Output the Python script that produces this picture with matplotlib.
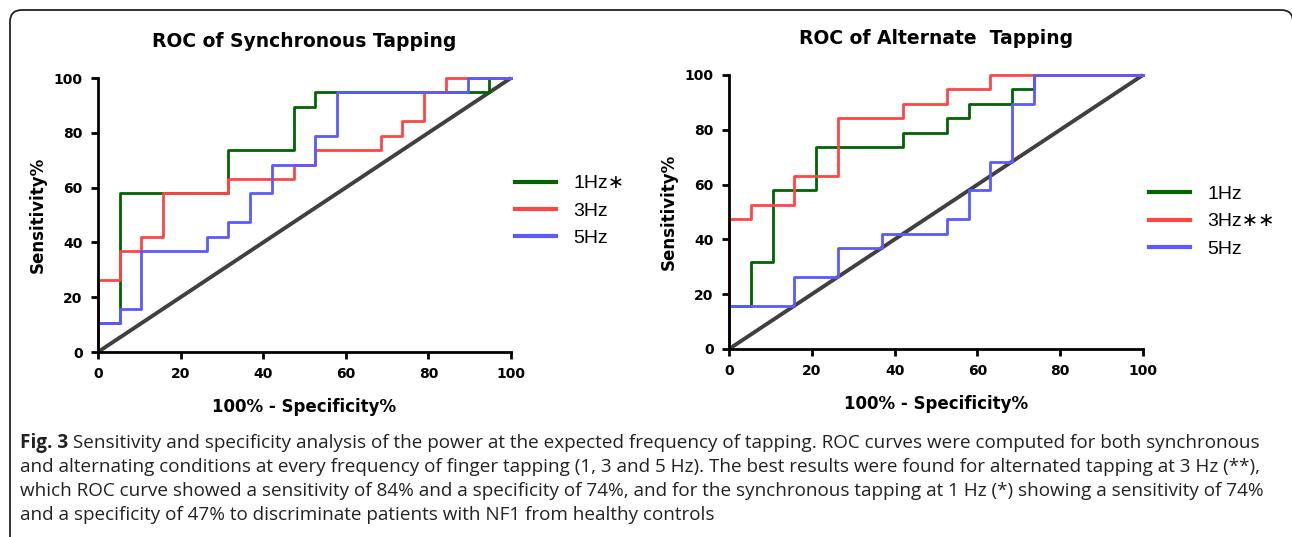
"""ROC curves for synchronous and alternate tapping (Fig. 3)."""

import matplotlib

matplotlib.use("Agg")
import matplotlib.pyplot as plt
from matplotlib.patches import FancyBboxPatch
from matplotlib.transforms import IdentityTransform

# ---- data (100% - specificity %, sensitivity %) ----
sync_1hz_fpr = [0, 0, 5.26, 5.26, 31.58, 31.58, 47.37, 47.37, 52.63, 52.63, 94.74, 94.74, 100]
sync_1hz_tpr = [0, 10.53, 10.53, 57.89, 57.89, 73.68, 73.68, 89.47, 89.47, 94.74, 94.74, 100, 100]

sync_3hz_fpr = [0, 0, 5.26, 5.26, 10.53, 10.53, 15.79, 15.79, 31.58, 31.58, 47.37, 47.37,
                52.63, 52.63, 68.42, 68.42, 73.68, 73.68, 78.95, 78.95, 84.21, 84.21, 100]
sync_3hz_tpr = [0, 26.32, 26.32, 36.84, 36.84, 42.11, 42.11, 57.89, 57.89, 63.16, 63.16, 68.42,
                68.42, 73.68, 73.68, 78.95, 78.95, 84.21, 84.21, 94.74, 94.74, 100, 100]

sync_5hz_fpr = [0, 0, 5.26, 5.26, 10.53, 10.53, 26.32, 26.32, 31.58, 31.58, 36.84, 36.84,
                42.11, 42.11, 52.63, 52.63, 57.89, 57.89, 89.47, 89.47, 100]
sync_5hz_tpr = [0, 10.53, 10.53, 15.79, 15.79, 36.84, 36.84, 42.11, 42.11, 47.37, 47.37, 57.89,
                57.89, 68.42, 68.42, 78.95, 78.95, 94.74, 94.74, 100, 100]

alt_1hz_fpr = [0, 0, 5.26, 5.26, 10.53, 10.53, 21.05, 21.05, 42.11, 42.11, 52.63, 52.63,
               57.89, 57.89, 68.42, 68.42, 73.68, 73.68, 100]
alt_1hz_tpr = [0, 15.79, 15.79, 31.58, 31.58, 57.89, 57.89, 73.68, 73.68, 78.95, 78.95, 84.21,
               84.21, 89.47, 89.47, 94.74, 94.74, 100, 100]

alt_3hz_fpr = [0, 0, 5.26, 5.26, 15.79, 15.79, 26.32, 26.32, 42.11, 42.11, 52.63, 52.63,
               63.16, 63.16, 100]
alt_3hz_tpr = [0, 47.37, 47.37, 52.63, 52.63, 63.16, 63.16, 84.21, 84.21, 89.47, 89.47, 94.74,
               94.74, 100, 100]

alt_5hz_fpr = [0, 0, 15.79, 15.79, 26.32, 26.32, 36.84, 36.84, 52.63, 52.63, 57.89, 57.89,
               63.16, 63.16, 68.42, 68.42, 73.68, 73.68, 100]
alt_5hz_tpr = [0, 15.79, 15.79, 26.32, 26.32, 36.84, 36.84, 42.11, 42.11, 47.37, 47.37, 57.89,
               57.89, 68.42, 68.42, 89.47, 89.47, 100, 100]

ticks = [0, 20, 40, 60, 80, 100]
sync_labels = ["1Hz\u2217", "3Hz", "5Hz"]
alt_labels = ["1Hz", "3Hz\u2217\u2217", "5Hz"]

caption_bold = "Fig. 3"
caption_lines = [
    " Sensitivity and specificity analysis of the power at the expected frequency of tapping. "
    "ROC curves were computed for both synchronous",
    "and alternating conditions at every frequency of finger tapping (1, 3 and 5 Hz). "
    "The best results were found for alternated tapping at 3 Hz (**),",
    "which ROC curve showed a sensitivity of 84% and a specificity of 74%, and for the "
    "synchronous tapping at 1 Hz (*) showing a sensitivity of 74%",
    "and a specificity of 47% to discriminate patients with NF1 from healthy controls",
]

GREEN = "#006400"
RED = "#ff4545"
BLUE = "#5a5aff"
DIAG = "#404040"
INK = "#222222"

plt.rcParams["font.family"] = ["Liberation Sans", "DejaVu Sans"]
WIDE = ["DejaVu Sans"]

W, H = 1292, 537
fig = plt.figure(figsize=(W / 100, H / 100), dpi=100)


def px_axes(x0, x1, y0, y1):
    # pixel box (top-left origin) -> figure fraction
    return fig.add_axes([x0 / W, 1 - y0 / H, (x1 - x0) / W, (y0 - y1) / H])


def roc_panel(ax, curves, labels, title, legend_anchor):
    ax.plot([0, 100], [0, 100], color=DIAG, lw=2.8, zorder=1, solid_capstyle="butt")
    handles = []
    for (fpr, tpr), color, label in zip(curves, [GREEN, RED, BLUE], labels):
        (h,) = ax.plot(fpr, tpr, color=color, lw=2.0, zorder=2, label=label)
        handles.append(h)
    ax.set_xlim(0, 100)
    ax.set_ylim(0, 100)
    ax.set_xticks(ticks)
    ax.set_yticks(ticks)
    for side in ["top", "right"]:
        ax.spines[side].set_visible(False)
    for side in ["left", "bottom"]:
        ax.spines[side].set_linewidth(2.0)
    ax.tick_params(width=2.0, length=5, labelsize=10, pad=6)
    for lab in ax.get_xticklabels() + ax.get_yticklabels():
        lab.set_fontweight("bold")
        lab.set_family(WIDE)
    ax.set_title(title, fontsize=13.5, fontweight="bold", pad=22, family=WIDE)
    ax.set_xlabel("100% - Specificity%", fontsize=12, fontweight="bold", labelpad=12,
                  family=WIDE)
    ax.set_ylabel("Sensitivity%", fontsize=12, fontweight="bold", labelpad=5, family=WIDE)
    for line in ax.lines:
        line.set_clip_on(False)
    leg = ax.legend(handles=handles, loc="center left", bbox_to_anchor=legend_anchor,
                    frameon=False, fontsize=14, handlelength=2.1, handletextpad=0.9,
                    labelspacing=0.5, borderaxespad=0, borderpad=0)
    for lh in leg.get_lines():
        lh.set_linewidth(3.0)


ax1 = px_axes(98, 511, 352, 78)
roc_panel(ax1, [(sync_1hz_fpr, sync_1hz_tpr), (sync_3hz_fpr, sync_3hz_tpr),
                (sync_5hz_fpr, sync_5hz_tpr)],
          sync_labels, "ROC of Synchronous Tapping", (1.01, 0.515))

ax2 = px_axes(729, 1143, 349, 75)
roc_panel(ax2, [(alt_1hz_fpr, alt_1hz_tpr), (alt_3hz_fpr, alt_3hz_tpr),
                (alt_5hz_fpr, alt_5hz_tpr)],
          alt_labels, "ROC of Alternate  Tapping", (1.015, 0.465))

# frame around figure + caption
frame = FancyBboxPatch((10, -30), 1283, H - 10 + 30, boxstyle="round,pad=0,rounding_size=12",
                       transform=IdentityTransform(), fill=False, ec=INK, lw=1.3)
fig.patches.append(frame)

cap_font = ["Open Sans", "DejaVu Sans"]
cap_size = 13.55
t = fig.text(20 / W, 1 - 443 / H, caption_bold, fontsize=cap_size, fontweight="bold",
             family=cap_font, va="center", ha="left", color=INK)
fig.add_artist(plt.Annotation(caption_lines[0], xy=(1, 0.5), xycoords=t, va="center",
                              ha="left", fontsize=cap_size, family=cap_font, color=INK,
                              annotation_clip=False))
for i, line in enumerate(caption_lines[1:], start=1):
    fig.text(20 / W, 1 - (443 + 24 * i) / H, line, fontsize=cap_size, family=cap_font,
             va="center", ha="left", color=INK)

fig.savefig("out.png", dpi=100)
